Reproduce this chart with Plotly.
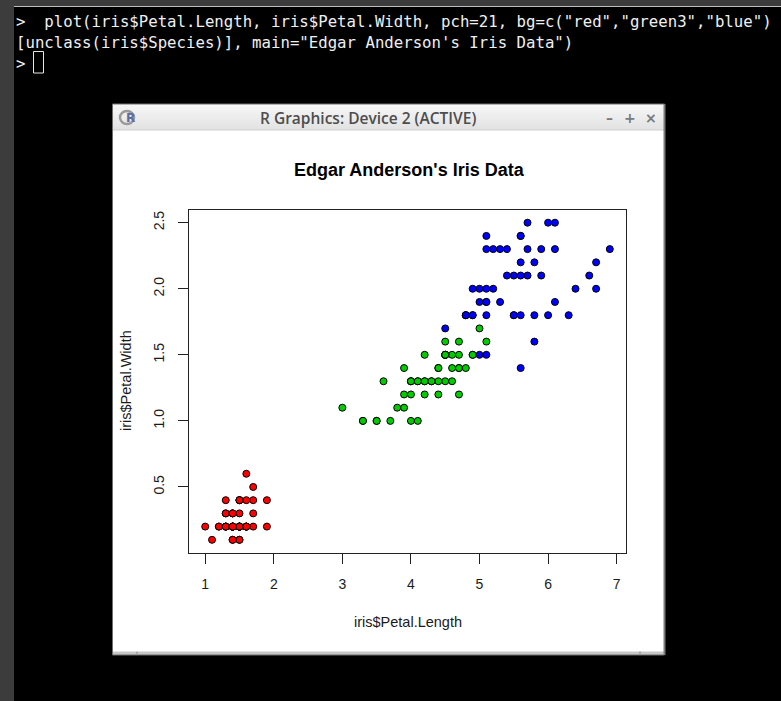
import plotly.graph_objects as go

# ---- data (Edgar Anderson's iris, petal measurements) ----
setosa_len = [1.4,1.4,1.3,1.5,1.4,1.7,1.4,1.5,1.4,1.5,1.5,1.6,1.4,1.1,1.2,1.5,1.3,1.4,1.7,1.5,
              1.7,1.5,1.0,1.7,1.9,1.6,1.6,1.5,1.4,1.6,1.6,1.5,1.5,1.4,1.5,1.2,1.3,1.4,1.3,1.5,
              1.3,1.3,1.3,1.6,1.9,1.4,1.6,1.4,1.5,1.4]
setosa_wid = [0.2,0.2,0.2,0.2,0.2,0.4,0.3,0.2,0.2,0.1,0.2,0.2,0.1,0.1,0.2,0.4,0.4,0.3,0.3,0.3,
              0.2,0.4,0.2,0.5,0.2,0.2,0.4,0.2,0.2,0.2,0.2,0.4,0.1,0.2,0.2,0.2,0.2,0.1,0.2,0.2,
              0.3,0.3,0.2,0.6,0.4,0.3,0.2,0.2,0.2,0.2]
versicolor_len = [4.7,4.5,4.9,4.0,4.6,4.5,4.7,3.3,4.6,3.9,3.5,4.2,4.0,4.7,3.6,4.4,4.5,4.1,4.5,3.9,
                  4.8,4.0,4.9,4.7,4.3,4.4,4.8,5.0,4.5,3.5,3.8,3.7,3.9,5.1,4.5,4.5,4.7,4.4,4.1,4.0,
                  4.4,4.6,4.0,3.3,4.2,4.2,4.2,4.3,3.0,4.1]
versicolor_wid = [1.4,1.5,1.5,1.3,1.5,1.3,1.6,1.0,1.3,1.4,1.0,1.5,1.0,1.4,1.3,1.4,1.5,1.0,1.5,1.1,
                  1.8,1.3,1.5,1.2,1.3,1.4,1.4,1.7,1.5,1.0,1.1,1.0,1.2,1.6,1.5,1.6,1.5,1.3,1.3,1.3,
                  1.2,1.4,1.2,1.0,1.3,1.2,1.3,1.3,1.1,1.3]
virginica_len = [6.0,5.1,5.9,5.6,5.8,6.6,4.5,6.3,5.8,6.1,5.1,5.3,5.5,5.0,5.1,5.3,5.5,6.7,6.9,5.0,
                 5.7,4.9,6.7,4.9,5.7,6.0,4.8,4.9,5.6,5.8,6.1,6.4,5.6,5.1,5.6,6.1,5.6,5.5,4.8,5.4,
                 5.6,5.1,5.1,5.9,5.7,5.2,5.0,5.2,5.4,5.1]
virginica_wid = [2.5,1.9,2.1,1.8,2.2,2.1,1.7,1.8,1.8,2.5,2.0,1.9,2.1,2.0,2.4,2.3,1.8,2.2,2.3,1.5,
                 2.3,2.0,2.0,1.8,2.1,1.8,1.8,1.8,2.1,1.6,1.9,2.0,2.2,1.5,1.4,2.3,2.4,1.8,1.8,2.1,
                 2.4,2.3,1.9,2.3,2.5,2.3,1.9,2.0,2.3,1.8]
species = ["setosa", "versicolor", "virginica"]
species_colors = ["#FF0000", "#00CD00", "#0000FF"]
x_ticks = [1, 2, 3, 4, 5, 6, 7]
y_ticks = [0.5, 1.0, 1.5, 2.0, 2.5]
y_tick_labels = ["0.5", "1.0", "1.5", "2.0", "2.5"]

main_title = "Edgar Anderson's Iris Data"
x_label = "iris$Petal.Length"
y_label = "iris$Petal.Width"
window_title = "R Graphics: Device 2 (ACTIVE)"
console_lines = [
    '>  plot(iris$Petal.Length, iris$Petal.Width, pch=21, bg=c("red","green3","blue")',
    '[unclass(iris$Species)], main="Edgar Anderson\'s Iris Data")',
    '> ',
]

W, H = 781, 701
def px(x): return x / W
def py(y): return 1 - y / H

def rect(x0, y0, x1, y1, fill=None, line=None, lw=0, layer="below"):
    return dict(type="rect", xref="paper", yref="paper",
                x0=px(x0), x1=px(x1), y0=py(y1), y1=py(y0),
                fillcolor=fill if fill else "rgba(0,0,0,0)",
                line=dict(color=line if line else "rgba(0,0,0,0)", width=lw),
                layer=layer)

fig = go.Figure()
for name, xs, ys, col in zip(species,
                             [setosa_len, versicolor_len, virginica_len],
                             [setosa_wid, versicolor_wid, virginica_wid],
                             species_colors):
    fig.add_trace(go.Scatter(x=xs, y=ys, mode="markers", name=name,
                             marker=dict(size=7, color=col, line=dict(color="#000000", width=1)),
                             showlegend=False, hoverinfo="x+y"))

shapes = []
# terminal chrome
shapes.append(rect(0, 0, W, 6, fill="#3c3c3c"))
shapes.append(rect(14, 6, W, 7, fill="#bdbdbd"))
shapes.append(rect(0, 0, 14, H, fill="#3c3c3c"))
# window
shapes.append(rect(112.5, 104, 664.5, 655, fill="#ffffff"))
# title bar gradient
n = 13
for i in range(n):
    t = i / (n - 1)
    c = int(247 - t * 20)
    shapes.append(rect(113, 104 + i * 2, 664, 106 + i * 2, fill=f"rgb({c},{c},{c})"))
shapes.append(rect(113, 129.5, 664, 130.5, fill="#cdcdcd"))
# bottom strip
shapes.append(rect(113, 651.5, 664, 655, fill="#c6c6c6"))
shapes.append(rect(136.5, 651.5, 137.5, 654, fill="#8a8a8a"))
shapes.append(rect(639.5, 651.5, 640.5, 654, fill="#8a8a8a"))
# window border
shapes.append(rect(112.5, 104, 664.5, 655, line="#6e6e6e", lw=1))
shapes.append(rect(663.5, 104, 665.5, 655, fill="#7a7a7a"))
# R icon ring
shapes.append(dict(type="circle", xref="paper", yref="paper",
                   x0=px(120), x1=px(134), y0=py(124), y1=py(111),
                   line=dict(color="#9a9a9a", width=2.5), fillcolor="rgba(0,0,0,0)", layer="below"))
# cursor
shapes.append(rect(33.5, 51.5, 43.5, 73, line="#e6e6e6", lw=1, layer="above"))

ann = []
for i, line in enumerate(console_lines):
    ann.append(dict(x=px(14), y=py(22 + i * 20.7), xref="paper", yref="paper",
                    text=line.replace(" ", "\u00a0"), showarrow=False,
                    xanchor="left", yanchor="middle",
                    font=dict(family="DejaVu Sans Mono", size=15.7, color="#f0f0f0")))
ann.append(dict(x=px(130), y=py(118), xref="paper", yref="paper", text="<b>R</b>",
                showarrow=False, xanchor="center", yanchor="middle",
                font=dict(family="DejaVu Sans", size=12, color="#5a6ea6")))
ann.append(dict(x=px(368), y=py(118), xref="paper", yref="paper", text=window_title,
                showarrow=False, xanchor="center", yanchor="middle",
                font=dict(family="Open Sans", size=15.5, color="#4d4d4d", weight=600)))
for xx, sym in [(609, "\u2013"), (630, "+"), (651, "\u00d7")]:
    ann.append(dict(x=px(xx), y=py(118), xref="paper", yref="paper", text=f"<b>{sym}</b>",
                    showarrow=False, xanchor="center", yanchor="middle",
                    font=dict(family="DejaVu Sans", size=14, color="#7a7a7a")))
# plot texts
ann.append(dict(x=px(409), y=py(170), xref="paper", yref="paper", text=f"<b>{main_title}</b>",
                showarrow=False, xanchor="center", yanchor="middle",
                font=dict(family="Liberation Sans", size=18, color="#000000")))
ann.append(dict(x=px(407.5), y=py(622), xref="paper", yref="paper", text=x_label,
                showarrow=False, xanchor="center", yanchor="middle",
                font=dict(family="Liberation Sans", size=14.5, color="#1a1a1a")))
ann.append(dict(x=px(126), y=py(381), xref="paper", yref="paper", text=y_label,
                showarrow=False, xanchor="center", yanchor="middle", textangle=-90,
                font=dict(family="Liberation Sans", size=14.5, color="#1a1a1a")))

axis_common = dict(showline=True, mirror=True, linecolor="#222222", linewidth=1,
                   ticks="outside", ticklen=10, tickwidth=1, tickcolor="#222222",
                   showgrid=False, zeroline=False, fixedrange=True,
                   tickfont=dict(family="Liberation Sans", size=14, color="#1a1a1a"))

fig.update_layout(
    width=W, height=H, autosize=False,
    margin=dict(l=0, r=0, t=0, b=0, pad=0),
    paper_bgcolor="#000000", plot_bgcolor="rgba(0,0,0,0)",
    xaxis=dict(domain=[px(189), px(626)], range=[0.764, 7.136],
               tickvals=x_ticks, ticktext=[str(v) for v in x_ticks],
               ticklabelstandoff=9, **axis_common),
    yaxis=dict(domain=[py(552.5), py(210)], range=[0.004, 2.596],
               tickvals=y_ticks, ticktext=y_tick_labels, tickangle=-90,
               ticklabelstandoff=8, **axis_common),
    shapes=shapes, annotations=ann, showlegend=False,
)

fig.write_html("out.html", config={"displayModeBar": False},
               post_script="document.body.style.margin='0';document.body.style.background='#000';")
